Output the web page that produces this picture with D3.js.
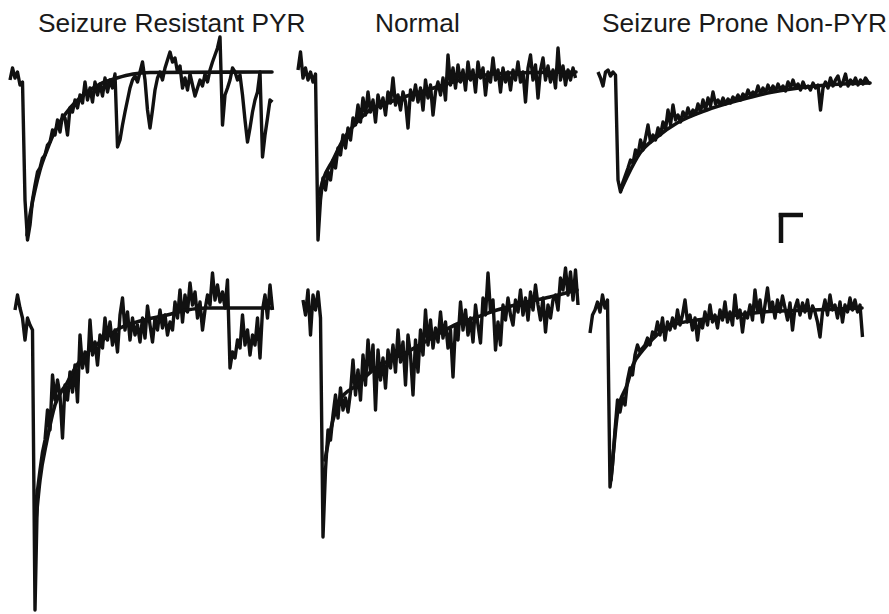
<!DOCTYPE html>
<html>
<head>
<meta charset="utf-8">
<script src="https://cdn.jsdelivr.net/npm/d3@7"></script>
<style>
  html, body { margin: 0; padding: 0; background: #fff; }
  svg { display: block; }
</style>
</head>
<body>
<svg id="chart" width="889" height="614"></svg>
<script>
// ---------------- DATA ----------------
// Panel titles (column headers)
const titles = ["Seizure Resistant PYR", "Normal", "Seizure Prone Non-PYR"];

// Sampling interval of the recorded traces (ms)
const sampleInterval = 2.5;

// Recorded current traces (relative amplitude, baseline = 0), sampled every 2.5 ms
const traceTopLeft = [-5,7,-3,3,-10,-7,-125,-165,-150,-125,-110,-97,-93,-83,-80,-70,-67,-55,-60,-45,-57,-40,-43,-60,-33,-37,-25,-33,-20,-28,-7,-25,-13,-27,-7,-20,-9,-21,-3,-17,-5,-13,1,-72,-65,-50,-37,-25,-13,-5,-1,-7,3,13,-5,-35,-53,-35,-15,-3,3,-5,7,15,23,13,17,3,9,-13,-3,-15,1,-10,-21,-13,-5,-11,1,-7,5,13,20,27,38,-50,-20,-13,-5,7,3,-5,0,-20,-45,-67,-53,-37,-25,-17,3,-82,-60,-43,-25,-27];
const traceTopMid = [5,23,-3,7,-5,3,-7,1,-165,-125,-103,-115,-97,-105,-85,-93,-73,-80,-60,-73,-53,-65,-43,-50,-30,-47,-23,-40,-17,-37,-25,-47,-20,-33,-23,-40,-17,-28,-3,-30,-20,-35,-17,-27,-53,-15,-25,-10,-27,-13,-35,-5,-23,-10,-40,-17,-7,-20,-3,-25,20,-10,7,-13,10,-7,5,-15,13,-5,5,-17,13,-3,7,-20,3,-7,17,-5,5,-17,7,-7,3,-15,5,-5,13,-7,3,-27,7,20,-5,10,-23,5,17,-5,9,-7,5,-13,27,-5,9,-10,5,-5,7,-3];
const traceTopRight = [3,-3,-11,3,5,-1,3,0,-105,-117,-107,-100,-93,-85,-88,-75,-80,-65,-75,-63,-50,-67,-60,-65,-53,-60,-47,-55,-35,-50,-30,-45,-40,-47,-37,-43,-33,-41,-35,-39,-29,-37,-25,-35,-23,-31,-17,-29,-25,-30,-23,-29,-24,-28,-22,-25,-20,-25,-19,-23,-15,-21,-17,-20,-11,-19,-13,-18,-10,-17,-11,-16,-9,-15,-11,-16,-7,-13,-5,-13,-9,-15,-7,-13,-11,-15,-8,-13,-10,-35,-13,-7,-13,-3,-11,-5,-1,-11,-7,1,-11,-5,-9,-3,-10,-5,-9,-3,-7,-9];
const traceBottomLeft = [-2,13,0,-10,-32,-10,-17,-22,-302,-182,-162,-144,-132,-102,-122,-67,-92,-72,-87,-130,-77,-92,-64,-84,-57,-94,-27,-60,-44,-64,-12,-47,-34,-57,-27,-40,-10,-32,-14,-37,-22,-44,-7,10,-22,-4,-32,-10,-27,-17,-34,-10,-30,2,-17,-34,-10,-22,-2,-20,-7,-27,-14,-22,6,-10,18,-14,13,-4,25,3,16,-10,6,-22,-2,13,3,35,8,23,6,16,0,28,-60,-44,-50,-32,-40,-7,-37,-22,-47,-27,-37,-10,-50,-2,13,-10,23,-2];
const traceBottomMid = [8,-7,18,-27,13,-2,16,-10,-229,-162,-122,-132,-107,-87,-110,-80,-102,-90,-104,-84,-52,-87,-62,-92,-47,-77,-32,-64,-37,-102,-42,-72,-50,-80,-42,-60,-37,-64,-22,-54,-34,-77,-27,-47,-87,-32,-64,-22,-47,-2,-37,-12,-40,-20,-34,-4,-30,-14,-40,-22,-69,-17,-32,6,-22,-2,-27,-10,-34,3,-17,-35,10,-7,35,-4,8,-42,-14,-37,3,-12,10,-7,-17,8,-4,18,-7,10,-12,16,-2,23,3,-12,10,-24,3,-10,8,13,-2,30,18,40,13,36,8,38,3];
const traceBottomRight = [-25,-7,-2,6,-4,13,0,8,-179,-157,-122,-92,-104,-90,-97,-72,-60,-67,-47,-37,-44,-40,-37,-30,-37,-24,-27,-14,-27,-10,-32,-14,-22,-10,-20,-2,-17,-7,8,-14,-7,-22,-10,-32,-12,-20,-4,-17,3,-14,-7,-20,-2,-12,6,-14,-4,-17,13,-10,-2,-24,-4,-10,3,-12,18,-4,8,-14,3,20,-2,6,-10,8,-4,12,0,-12,5,-22,0,8,-7,5,-4,8,-10,2,-4,-14,-29,-4,8,-7,13,-2,3,-10,6,-14,3,-4,10,-2,8,-4,3,-29];

// Exponential fits drawn over each trace: time (ms from trace start) and amplitude
const fitTopLeftT  = [17, 20, 25, 30, 37, 47, 60, 73, 90, 107, 123, 140, 262];
const fitTopLeftV  = [-160, -140, -115, -95, -75, -52, -33, -20, -9, -3, 1, 2.5, 3];
const fitTopMidT   = [21, 25, 35, 45, 59, 72, 92, 112, 132, 152, 175, 209, 278];
const fitTopMidV   = [-120, -105, -85, -65, -47, -35, -27, -20, -14, -8, -2, 2, 3];
const fitTopRightT = [23, 29, 42, 59, 79, 109, 142, 175, 209, 245, 272];
const fitTopRightV = [-115, -102, -78, -62, -48, -35, -25, -17, -12, -9, -8];
const fitBottomLeftT  = [21, 25, 32, 40, 52, 62, 75, 88, 105, 125, 152, 172, 192, 257];
const fitBottomLeftV  = [-212, -172, -132, -97, -75, -57, -42, -32, -20, -13, -7, -2, 0, 0];
const fitBottomMidT   = [22, 30, 37, 54, 70, 87, 104, 120, 137, 154, 174, 194, 220, 247, 274];
const fitBottomMidV   = [-152, -112, -92, -77, -62, -52, -44, -35, -25, -16, -9, -2, 5, 11, 18];
const fitBottomRightT = [21, 23, 28, 37, 43, 53, 67, 83, 107, 140, 173, 223, 272];
const fitBottomRightV = [-172, -149, -102, -77, -57, -42, -27, -17, -12, -8, -4, -2, 0];

// Scale bar sizes (time in ms, amplitude units)
const scaleBarTime = 22;
const scaleBarAmp = 28;

// ---------------- LAYOUT ----------------
const svg = d3.select("#chart");
const pxPerMs = 1;

// Row amplitude scales
const rowY = [
  d3.scaleLinear().domain([-170, 60]).range([245, 15]),
  d3.scaleLinear().domain([-310, 60]).range([618, 248])
];

const panels = [
  { trace: traceTopLeft,     fitT: fitTopLeftT,     fitV: fitTopLeftV,     left: 10,  row: 0 },
  { trace: traceTopMid,      fitT: fitTopMidT,      fitV: fitTopMidV,      left: 298, row: 0 },
  { trace: traceTopRight,    fitT: fitTopRightT,    fitV: fitTopRightV,    left: 598, row: 0 },
  { trace: traceBottomLeft,  fitT: fitBottomLeftT,  fitV: fitBottomLeftV,  left: 15,  row: 1 },
  { trace: traceBottomMid,   fitT: fitBottomMidT,   fitV: fitBottomMidV,   left: 303, row: 1 },
  { trace: traceBottomRight, fitT: fitBottomRightT, fitV: fitBottomRightV, left: 590, row: 1 }
];

const ink = "#111";

panels.forEach(p => {
  const duration = (p.trace.length - 1) * sampleInterval;
  const x = d3.scaleLinear().domain([0, duration]).range([p.left, p.left + duration * pxPerMs]);
  const y = rowY[p.row];
  p.x = x; p.y = y;

  const traceLine = d3.line()
    .x((d, i) => x(i * sampleInterval))
    .y(d => y(d));

  svg.append("path")
    .datum(p.trace)
    .attr("d", traceLine)
    .attr("fill", "none")
    .attr("stroke", ink)
    .attr("stroke-width", 3.4)
    .attr("stroke-linejoin", "round");

  const fitLine = d3.line()
    .x(d => x(d[0]))
    .y(d => y(d[1]))
    .curve(d3.curveMonotoneX);

  svg.append("path")
    .datum(d3.zip(p.fitT, p.fitV))
    .attr("d", fitLine)
    .attr("fill", "none")
    .attr("stroke", ink)
    .attr("stroke-width", 3.6)
    .attr("stroke-linecap", "round");
});

// Titles
const titleX = [38, 375, 602];
svg.selectAll("text.title")
  .data(titles)
  .enter().append("text")
  .attr("class", "title")
  .attr("x", (d, i) => titleX[i])
  .attr("y", 32)
  .attr("font-family", "Liberation Sans, Arial, sans-serif")
  .attr("font-size", 26.3)
  .attr("fill", "#1a1a1a")
  .text(d => d);

// Scale bar (drawn in the top-right panel's coordinate system)
{
  const p = panels[2];
  const t0 = 183, v0 = -140;
  const g = svg.append("g").attr("stroke", ink).attr("stroke-width", 4.5).attr("fill", "none");
  g.append("line")
    .attr("x1", p.x(t0)).attr("x2", p.x(t0))
    .attr("y1", p.y(v0) - 2).attr("y2", p.y(v0 - scaleBarAmp));
  g.append("line")
    .attr("x1", p.x(t0) - 2.2).attr("x2", p.x(t0 + scaleBarTime))
    .attr("y1", p.y(v0)).attr("y2", p.y(v0));
}
</script>
</body>
</html>
